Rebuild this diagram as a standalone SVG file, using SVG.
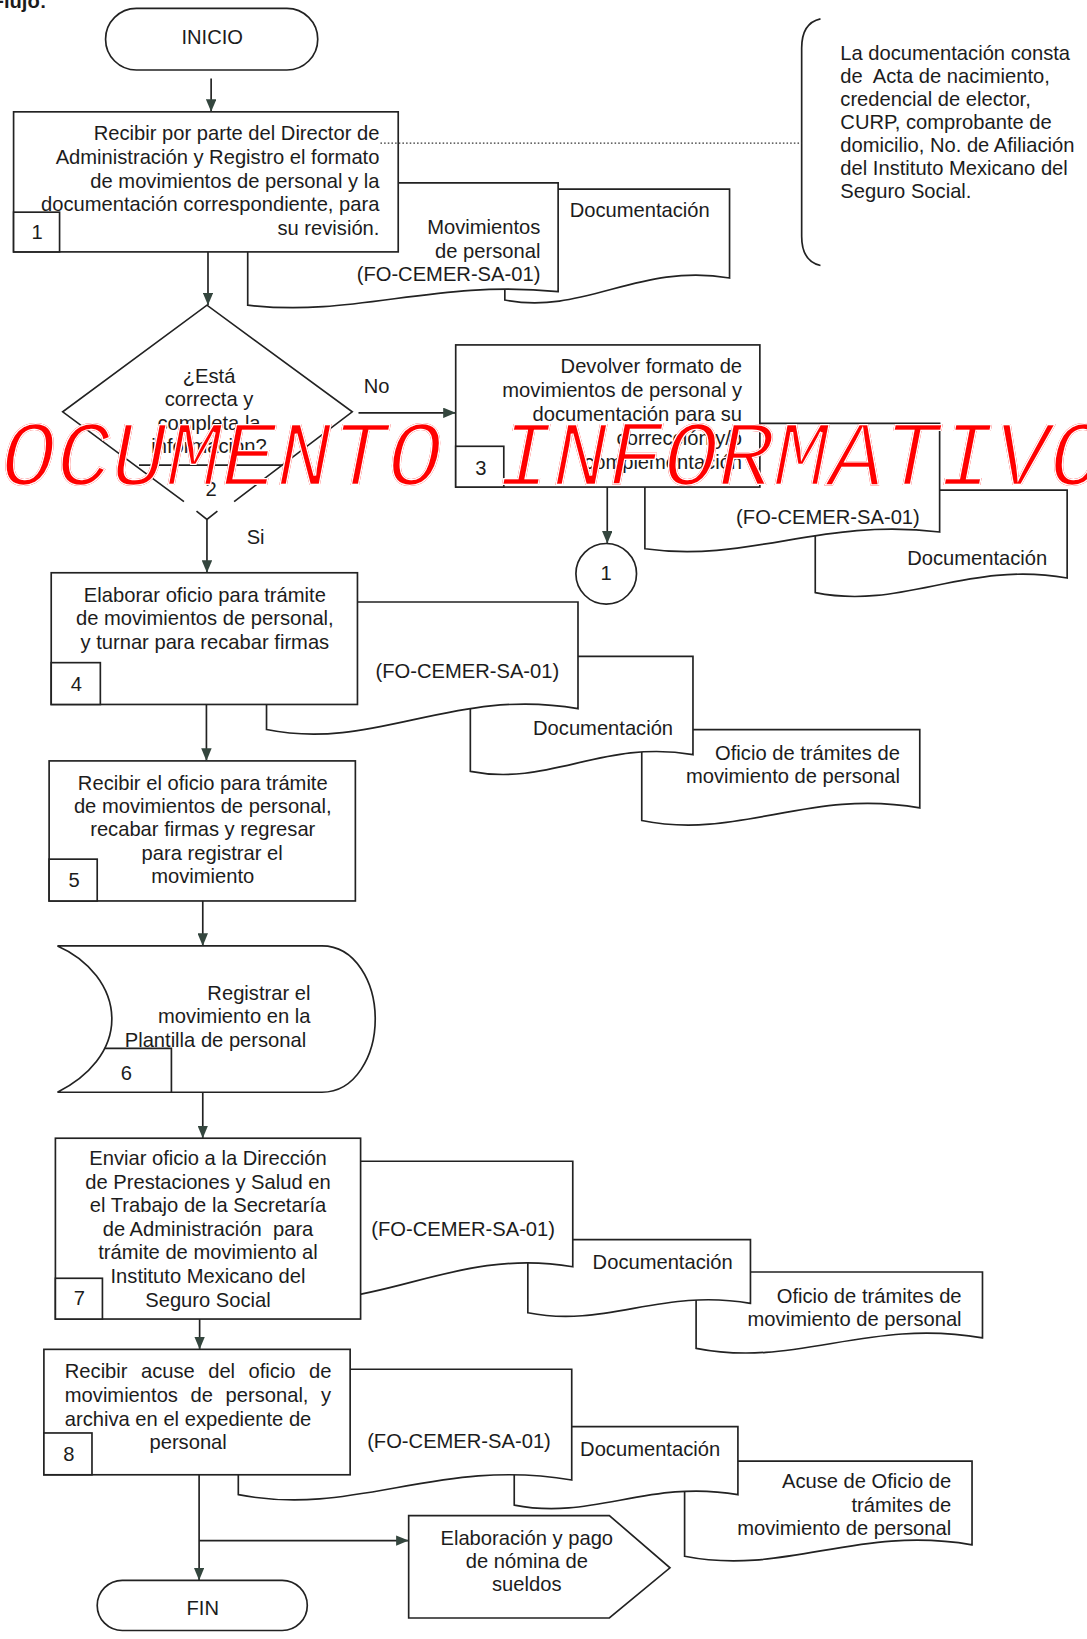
<svg xmlns="http://www.w3.org/2000/svg" width="1087" height="1639" viewBox="0 0 1087 1639">
  <defs>
    <style>
      .s { fill: #fff; stroke: #222; stroke-width: 1.6; stroke-linejoin: miter; }
      .ln { fill: none; stroke: #222; stroke-width: 1.6; }
      .t { font-family: "Liberation Sans", Arial, sans-serif; font-size: 19.3px; fill: #1c1c1c; }
      .e { text-anchor: end; }
      .m { text-anchor: middle; }
      .dot { fill: none; stroke: #333; stroke-width: 1.2; stroke-dasharray: 1.5 2; }
      .wm { font-family: "Liberation Mono", "Courier New", monospace; font-style: italic; font-size: 88px; }
      .hd { font-family: "Liberation Sans", Arial, sans-serif; font-weight: bold; font-size: 19.3px; fill: #1c1c1c; }
    </style>
    <marker id="arr" viewBox="0 0 12 10" refX="12" refY="5" markerWidth="12" markerHeight="10" markerUnits="userSpaceOnUse" orient="auto">
      <path d="M0,0 L12,5 L0,10 Z" fill="#34463e"/>
    </marker>
  </defs>
  <rect width="1087" height="1639" fill="#fff"/>
  <g transform="scale(1.0452)">
    <clipPath id="stamp-clip">
      <text class="wm" x="-52" y="464">DOCUMENTO INFORMATIVO</text>
    </clipPath>

    <text class="hd" x="-8" y="8">Flujo:</text>

    <!-- start terminal -->
    <g id="inicio">
      <rect class="s" x="101" y="8" width="203" height="59" rx="29.5"/>
      <text class="t m" x="203" y="42.5">INICIO</text>
    </g>

    <!-- step 1 with its documents -->
    <g id="doc1-documentacion">
      <path class="s" d="M483,181 H698 V266 C612,251 558,302 483,287 Z"/>
      <text class="t e" x="679" y="208">Documentación</text>
    </g>
    <g id="doc1-movimientos">
      <path class="s" d="M237,175 H534 V279 C415,267 341,304 237,292 Z"/>
      <text class="t e" x="517" y="224">Movimientos</text>
      <text class="t e" x="517" y="247">de personal</text>
      <text class="t e" x="517" y="269">(FO-CEMER-SA-01)</text>
    </g>
    <g id="step1">
      <rect class="s" x="13" y="107" width="368" height="134"/>
      <rect class="s" x="13" y="203" width="44" height="38"/>
      <text class="t m" x="35.5" y="229">1</text>
      <text class="t e" x="363" y="134">Recibir por parte del Director de</text>
      <text class="t e" x="363" y="157">Administración y Registro el formato</text>
      <text class="t e" x="363" y="180">de movimientos de personal y la</text>
      <text class="t e" x="363" y="202">documentación correspondiente, para</text>
      <text class="t e" x="363" y="225">su revisión.</text>
    </g>

    <!-- annotation for step 1 -->
    <g id="note-documentacion">
      <path class="ln" d="M785,18 Q767,22 767,46 L767,226 Q767,250 785,254"/>
      <text class="t" x="804" y="57">La documentación consta</text>
      <text class="t" x="804" y="79" xml:space="preserve">de  Acta de nacimiento,</text>
      <text class="t" x="804" y="101">credencial de elector,</text>
      <text class="t" x="804" y="123">CURP, comprobante de</text>
      <text class="t" x="804" y="145">domicilio, No. de Afiliación</text>
      <text class="t" x="804" y="167">del Instituto Mexicano del</text>
      <text class="t" x="804" y="189">Seguro Social.</text>
    </g>

    <!-- decision 2 -->
    <g id="decision2">
      <polygon points="60,394 198,292 337,394 198,497" fill="#fff" stroke="none"/>
      <polyline class="ln" points="176,480 60,394 198,292 337,394 224,480"/>
      <polyline class="ln" points="188,489 198,497 208,489"/>
      <line class="ln" x1="133" y1="445" x2="270" y2="445"/>
      <text class="t m" x="200" y="366">¿Está</text>
      <text class="t m" x="200" y="388">correcta y</text>
      <text class="t m" x="200" y="411">completa la</text>
      <text class="t m" x="200" y="433">información?</text>
      <text class="t m" x="202" y="475">2</text>
    </g>

    <!-- step 3 with its documents -->
    <g id="doc3-documentacion">
      <path class="s" d="M780,469 H1021 V553 C925,536 864,584 780,567 Z"/>
      <text class="t e" x="1002" y="541">Documentación</text>
    </g>
    <g id="doc3-formato">
      <path class="s" d="M617,405 H899 V509 C786,495 716,539 617,525 Z"/>
      <text class="t e" x="880" y="501">(FO-CEMER-SA-01)</text>
    </g>
    <g id="step3">
      <rect class="s" x="436" y="330" width="291" height="136"/>
      <rect class="s" x="436" y="427" width="46" height="39"/>
      <text class="t m" x="460" y="454">3</text>
      <text class="t e" x="710" y="357">Devolver formato de</text>
      <text class="t e" x="710" y="380">movimientos de personal y</text>
      <text class="t e" x="710" y="403">documentación para su</text>
      <text class="t e" x="710" y="426">corrección y/o</text>
      <text class="t e" x="710" y="449">complementación</text>
    </g>
    <g id="connector1">
      <circle class="s" cx="580" cy="549" r="29"/>
      <text class="t m" x="580" y="555">1</text>
    </g>

    <!-- step 4 with its documents -->
    <g id="doc4-oficio">
      <path class="s" d="M614,698 H880 V773 C774,754 707,804 614,785 Z"/>
      <text class="t e" x="861" y="727">Oficio de trámites de</text>
      <text class="t e" x="861" y="749">movimiento de personal</text>
    </g>
    <g id="doc4-documentacion">
      <path class="s" d="M450,628 H663 V722 C578,707 525,753 450,738 Z"/>
      <text class="t e" x="644" y="703">Documentación</text>
    </g>
    <g id="doc4-formato">
      <path class="s" d="M255,576 H553 V678 C434,657 359,719 255,698 Z"/>
      <text class="t e" x="535" y="649">(FO-CEMER-SA-01)</text>
    </g>
    <g id="step4">
      <rect class="s" x="49" y="548" width="293" height="126"/>
      <rect class="s" x="49" y="634" width="47" height="40"/>
      <text class="t m" x="73" y="661">4</text>
      <text class="t m" x="196" y="576">Elaborar oficio para trámite</text>
      <text class="t m" x="196" y="598">de movimientos de personal,</text>
      <text class="t m" x="196" y="621">y turnar para recabar firmas</text>
    </g>

    <!-- step 5 -->
    <g id="step5">
      <rect class="s" x="47" y="728" width="293" height="134"/>
      <rect class="s" x="47" y="822" width="46" height="40"/>
      <text class="t m" x="71" y="849">5</text>
      <text class="t m" x="194" y="756">Recibir el oficio para trámite</text>
      <text class="t m" x="194" y="778">de movimientos de personal,</text>
      <text class="t m" x="194" y="800">recabar firmas y regresar</text>
      <text class="t m" x="203" y="823">para registrar el</text>
      <text class="t m" x="194" y="845">movimiento</text>
    </g>

    <!-- step 6: stored data -->
    <g id="step6">
      <path class="s" d="M55,905 H308 C340,905 359,940 359,975 C359,1010 340,1045 308,1045 H55 C85,1030 107,1005 107,975 C107,945 85,918 55,905 Z"/>
      <polyline class="ln" points="100,1003 164,1003 164,1045"/>
      <text class="t m" x="121" y="1033">6</text>
      <text class="t e" x="297" y="957">Registrar el</text>
      <text class="t e" x="297" y="979">movimiento en la</text>
      <text class="t e" x="293" y="1002">Plantilla de personal</text>
    </g>

    <!-- step 7 with its documents -->
    <g id="doc7-oficio">
      <path class="s" d="M666,1217 H940 V1280 C830,1261 762,1309 666,1290 Z"/>
      <text class="t e" x="920" y="1247">Oficio de trámites de</text>
      <text class="t e" x="920" y="1269">movimiento de personal</text>
    </g>
    <g id="doc7-documentacion">
      <path class="s" d="M505,1186 H718 V1247 C633,1232 580,1271 505,1256 Z"/>
      <text class="t e" x="701" y="1214">Documentación</text>
    </g>
    <g id="doc7-formato">
      <path class="s" d="M255,1111 H548 V1212 C431,1192 358,1260 255,1240 Z"/>
      <text class="t e" x="531" y="1183">(FO-CEMER-SA-01)</text>
    </g>
    <g id="step7">
      <rect class="s" x="53" y="1089" width="292" height="173"/>
      <rect class="s" x="53" y="1223" width="45" height="39"/>
      <text class="t m" x="76" y="1249">7</text>
      <text class="t m" x="199" y="1115">Enviar oficio a la Dirección</text>
      <text class="t m" x="199" y="1137.5">de Prestaciones y Salud en</text>
      <text class="t m" x="199" y="1160">el Trabajo de la Secretaría</text>
      <text class="t m" x="199" y="1182.5" xml:space="preserve">de Administración  para</text>
      <text class="t m" x="199" y="1205">trámite de movimiento al</text>
      <text class="t m" x="199" y="1227.5">Instituto Mexicano del</text>
      <text class="t m" x="199" y="1250">Seguro Social</text>
    </g>

    <!-- step 8 with its documents -->
    <g id="doc8-acuse">
      <path class="s" d="M655,1398 H930 V1478 C820,1459 751,1508 655,1489 Z"/>
      <text class="t e" x="910" y="1424">Acuse de Oficio de</text>
      <text class="t e" x="910" y="1447">trámites de</text>
      <text class="t e" x="910" y="1469">movimiento de personal</text>
    </g>
    <g id="doc8-documentacion">
      <path class="s" d="M492,1365 H706 V1430 C620,1415 567,1455 492,1440 Z"/>
      <text class="t e" x="689" y="1393">Documentación</text>
    </g>
    <g id="doc8-formato">
      <path class="s" d="M228,1310 H547 V1416 C419,1394 340,1452 228,1430 Z"/>
      <text class="t e" x="527" y="1385">(FO-CEMER-SA-01)</text>
    </g>
    <g id="step8">
      <rect class="s" x="42" y="1291" width="293" height="120"/>
      <rect class="s" x="42" y="1371" width="46" height="40"/>
      <text class="t m" x="66" y="1398">8</text>
      <text class="t" x="62" y="1318" word-spacing="7.5">Recibir acuse del oficio de</text>
      <text class="t" x="62" y="1341" word-spacing="6.7">movimientos de personal, y</text>
      <text class="t" x="62" y="1364">archiva en el expediente de</text>
      <text class="t m" x="180" y="1386">personal</text>
    </g>

    <!-- off-page reference -->
    <g id="nomina">
      <polygon class="s" points="391,1450 583,1450 641,1500 583,1548 391,1548"/>
      <text class="t m" x="504" y="1478">Elaboración y pago</text>
      <text class="t m" x="504" y="1500">de nómina de</text>
      <text class="t m" x="504" y="1522">sueldos</text>
    </g>

    <!-- end terminal -->
    <g id="fin">
      <rect class="s" x="93" y="1512" width="201" height="48" rx="24"/>
      <text class="t m" x="194" y="1545">FIN</text>
    </g>

    <!-- flow connectors -->
    <g id="connectors">
      <line class="dot" x1="364" y1="137" x2="767" y2="137"/>
      <line class="ln" x1="202" y1="75" x2="202" y2="107" marker-end="url(#arr)"/>
      <line class="ln" x1="199" y1="241" x2="199" y2="292" marker-end="url(#arr)"/>
      <line class="ln" x1="343" y1="395" x2="436" y2="395" marker-end="url(#arr)"/>
      <text class="t" x="348" y="376">No</text>
      <line class="ln" x1="198" y1="497" x2="198" y2="548" marker-end="url(#arr)"/>
      <text class="t" x="236" y="520">Si</text>
      <line class="ln" x1="581" y1="466" x2="581" y2="520" marker-end="url(#arr)"/>
      <line class="ln" x1="197.5" y1="674" x2="197.5" y2="728" marker-end="url(#arr)"/>
      <line class="ln" x1="194" y1="862" x2="194" y2="905" marker-end="url(#arr)"/>
      <line class="ln" x1="194" y1="1045" x2="194" y2="1089" marker-end="url(#arr)"/>
      <line class="ln" x1="191" y1="1262" x2="191" y2="1291" marker-end="url(#arr)"/>
      <line class="ln" x1="190.5" y1="1411" x2="190.5" y2="1512" marker-end="url(#arr)"/>
      <line class="ln" x1="190.5" y1="1474" x2="391" y2="1474" marker-end="url(#arr)"/>
    </g>

    <!-- overprinted stamp; the clipped white outline thins the glyph strokes -->
    <g id="stamp">
      <text class="wm" x="-52" y="464" fill="#ff0000">DOCUMENTO INFORMATIVO</text>
      <text class="wm" x="-52" y="464" fill="none" stroke="#fff" stroke-width="2.6" clip-path="url(#stamp-clip)">DOCUMENTO INFORMATIVO</text>
    </g>
  </g>
</svg>
